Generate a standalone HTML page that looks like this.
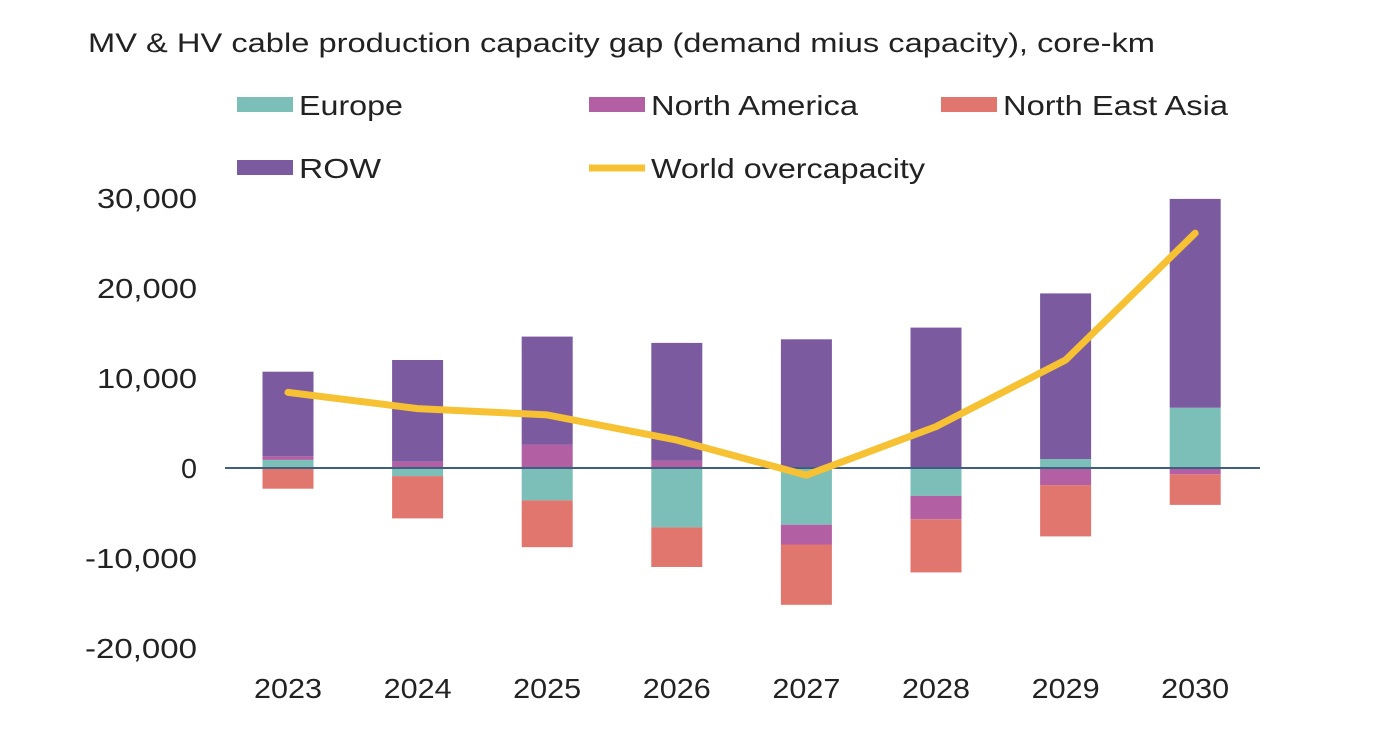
<!DOCTYPE html>
<html><head><meta charset="utf-8"><style>
body{margin:0;background:#fff;}
svg text{font-family:"Liberation Sans",Arial,sans-serif;fill:#222;}
</style></head><body>
<svg id="c" width="1392" height="737" xmlns="http://www.w3.org/2000/svg">
<text x="88" y="52" font-size="27" textLength="1067" lengthAdjust="spacingAndGlyphs">MV &amp; HV cable production capacity gap (demand mius capacity), core-km</text>
<g>
<rect x="237" y="97" width="56" height="15" fill="#7bbfb8"/>
<text x="299" y="115" font-size="28" textLength="104" lengthAdjust="spacingAndGlyphs">Europe</text>
<rect x="589" y="97" width="56" height="15" fill="#b25fa3"/>
<text x="651" y="115" font-size="28" textLength="207" lengthAdjust="spacingAndGlyphs">North America</text>
<rect x="941" y="97" width="56" height="15" fill="#e0766d"/>
<text x="1003" y="115" font-size="28" textLength="225" lengthAdjust="spacingAndGlyphs">North East Asia</text>
<rect x="237" y="160" width="56" height="15" fill="#7b5aa0"/>
<text x="299" y="178" font-size="28" textLength="82" lengthAdjust="spacingAndGlyphs">ROW</text>
<line x1="589" y1="168" x2="645" y2="168" stroke="#f6c132" stroke-width="7"/>
<text x="651" y="178" font-size="28" textLength="274" lengthAdjust="spacingAndGlyphs">World overcapacity</text>
</g>
<g id="plot"></g>
</svg>
<script>
const years=["2023","2024","2025","2026","2027","2028","2029","2030"];
const europe=[900,-900,-3600,-6600,-6300,-3100,1000,6700];
const northAmerica=[400,700,2600,800,-2200,-2600,-1900,-700];
const northEastAsia=[-2300,-4700,-5200,-4400,-6700,-5900,-5700,-3400];
const row=[9400,11300,12000,13100,14300,15600,18400,23200];
const worldOver=[8400,6600,5900,3100,-800,4600,12000,26100];
const yTicks=[30000,20000,10000,0,-10000,-20000];
const yTickLabels=["30,000","20,000","10,000","0","-10,000","-20,000"];

const NS="http://www.w3.org/2000/svg";
const g=document.getElementById('plot');
const y0=468, pxPer=270/30000;
function yS(v){return y0-v*pxPer;}
function xS(i){return 288+i*129.6;}
const bw=51;
function el(t,a){const e=document.createElementNS(NS,t);for(const k in a)e.setAttribute(k,a[k]);g.appendChild(e);return e;}

yTicks.forEach((t,i)=>{
  const lbl=yTickLabels[i];
  const w=lbl.length===1?16:(lbl.length===6?100:112);
  const e=el('text',{x:197-w,y:yS(t)+10,'font-size':28,textLength:w,lengthAdjust:'spacingAndGlyphs'});
  e.textContent=lbl;
  
  
});
const series=[[europe,'#7bbfb8','europe'],[northAmerica,'#b25fa3','north-america'],[northEastAsia,'#e0766d','north-east-asia'],[row,'#7b5aa0','row']];
years.forEach((yr,i)=>{
  let pos=0,neg=0;
  series.forEach(([arr,col,nm])=>{
    const v=arr[i];let a,b;
    if(v>=0){a=pos;b=pos+v;pos=b;}else{a=neg;b=neg+v;neg=b;}
    const top=yS(Math.max(a,b)),bot=yS(Math.min(a,b));
    const r=el('rect',{x:xS(i)-bw/2,y:top,width:bw,height:bot-top,fill:col});
    
    
  });
  const t=el('text',{x:xS(i)-34,y:698,'font-size':28,textLength:68,lengthAdjust:'spacingAndGlyphs'});
  t.textContent=yr;
  
  
});
const ax=el('line',{x1:225,x2:1260,y1:y0,y2:y0,stroke:'#3f5f80','stroke-width':2});


const pl=el('polyline',{points:worldOver.map((v,i)=>xS(i)+','+yS(v)).join(' '),fill:'none',stroke:'#f6c132','stroke-width':7,'stroke-linecap':'round','stroke-linejoin':'round'});


</script>
</body></html>
